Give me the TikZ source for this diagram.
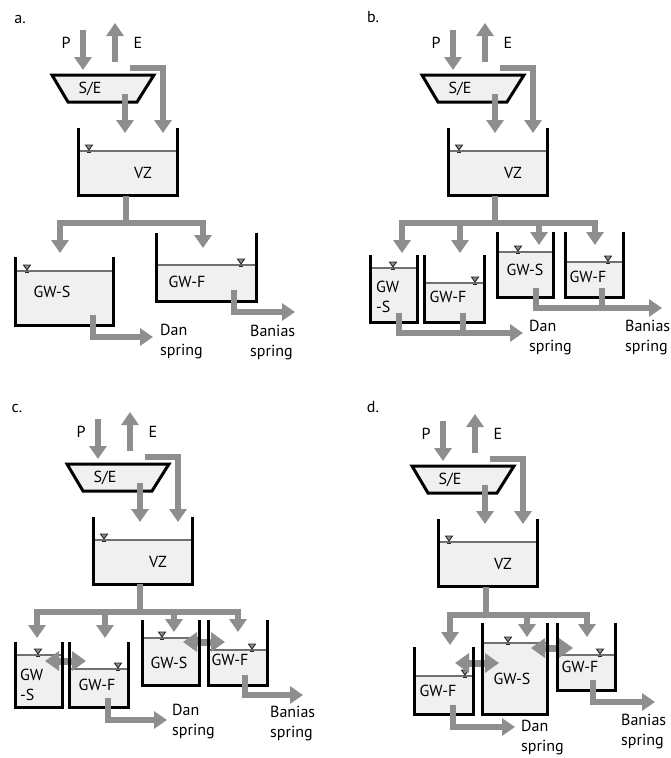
\documentclass[tikz,border=0pt]{standalone}
\usepackage{fontspec}
\setmainfont{PT Sans}
\usetikzlibrary{arrows.meta}
\definecolor{flowgray}{HTML}{8E8E8E}
\definecolor{tankfill}{HTML}{F0F0F0}
\definecolor{watercol}{HTML}{707070}

% reservoir interior below the water table, with the water-table mark
\newcommand{\tankbody}[5]{% left, right, bottom, water level, mark x
  \fill[tankfill] (#1,#4) rectangle (#2,#3);
  \draw[waterline] (#1,#4) -- (#2,#4);
  \draw[wtmark] ({#5-3.5},{#4-6}) -- ({#5+3.5},{#4-6}) -- (#5,{#4-1}) -- cycle;
  \draw[wtmark] ({#5-2},{#4+1.5}) -- ({#5+2},{#4+1.5});
}
% the open-topped walls of a reservoir
\newcommand{\tankwall}[4]{% left, right, top, bottom
  \draw[wall] (#1,#3) -- (#1,#4) -- (#2,#4) -- (#2,#3);
}
% precipitation, evaporation, surface store and vadose zone
\newcommand{\upperpart}[2]{%
  \begin{scope}[shift={(#1,#2)}]
    \draw[flow] (83,30) -- (83,70);
    \node[lbl] (P#1) at (66,43) {P};
    \draw[flow] (115,62) -- (115,23);
    \node[lbl] (E#1) at (138,43) {E};
    \draw[store] (52,75) -- (154,75) -- (137,102) -- (68,102) -- cycle;
    \node[lbl] (SE#1) at (90,89) {S/E};
    \draw[flow] (125,94) -- (125,133);
    \draw[flow] (130,68) -- (163,68) -- (163,133);
    \tankbody{78}{177}{195}{151}{89}
    \tankwall{78}{177}{128}{195}
    \node[lbl] (VZ#1) at (143,173) {VZ};
  \end{scope}
}

\begin{document}
\begin{tikzpicture}[x=1pt,y=-1pt,
  lbl/.style={font=\fontsize{16}{20}\selectfont, inner sep=0pt},
  txt/.style={font=\fontsize{16}{20}\selectfont, inner sep=0pt, align=left, anchor=west},
  flow/.style={draw=flowgray, line width=6pt, line join=miter,
    -{Triangle[width=17pt,length=13pt]}},
  dflow/.style={draw=flowgray, line width=7pt,
    {Triangle[width=19pt,length=14pt]}-{Triangle[width=19pt,length=14pt]}},
  trunk/.style={draw=flowgray, line width=6pt, line join=miter},
  wall/.style={draw=black, line width=3pt, line join=miter},
  store/.style={draw=black, fill=tankfill, line width=3pt, line join=miter},
  waterline/.style={draw=watercol, line width=1.2pt},
  wtmark/.style={draw=black!85, line width=0.9pt, fill=black!45}]
\useasboundingbox (0,0) rectangle (671,758);

% ---------------- a. ----------------
\node[lbl] (la) at (20,20) {a.};
\upperpart{0}{0}
\draw[trunk] (126,196) -- (126,223);
\draw[flow] (126,223) -- (60,223) -- (60,253);
\draw[flow] (126,223) -- (203,223) -- (203,248);
\tankbody{15}{113}{325}{271}{27}
\tankwall{15}{113}{257}{325}
\node[lbl] (gwsa) at (52,292) {GW-S};
\tankbody{156}{256}{301}{265}{241}
\tankwall{156}{256}{233}{301}
\node[lbl] (gwfa) at (187,282) {GW-F};
\draw[flow] (93,315) -- (93,337) -- (153,337);
\node[txt] (dana) at (160,342) {Dan\\spring};
\draw[flow] (234,290) -- (234,312) -- (295,312);
\node[txt] (bana) at (250,343) {Banias\\spring};

% ---------------- b. ----------------
\node[lbl] (lb) at (373,17) {b.};
\upperpart{370}{0}
\draw[trunk] (495,196) -- (495,223);
\draw[flow] (495,223) -- (402,223) -- (402,253);
\draw[flow] (460,223) -- (460,253);
\draw[flow] (495,223) -- (595,223) -- (595,245);
\draw[flow] (539,223) -- (539,245);
\tankbody{370}{417}{322}{268}{393}
\tankwall{370}{417}{255}{322}
\node[txt] (gwsb1) at (376,297) {GW\\-S};
\tankbody{424}{484}{322}{283}{475}
\tankwall{424}{484}{255}{322}
\node[lbl] (gwfb1) at (448,297) {GW-F};
\tankbody{497}{553}{297}{252}{518}
\tankwall{497}{553}{232}{297}
\node[lbl] (gwsb2) at (525,270) {GW-S};
\tankbody{565}{623}{297}{262}{608}
\tankwall{565}{623}{232}{297}
\node[lbl] (gwfb2) at (588,277) {GW-F};
\draw[flow] (399,313) -- (399,333) -- (523,333);
\draw[trunk] (463,313) -- (463,333);
\node[txt] (danb) at (529,338) {Dan\\spring};
\draw[flow] (536,288) -- (536,308) -- (662,308);
\draw[trunk] (602,288) -- (602,308);
\node[txt] (banb) at (625,338) {Banias\\spring};

% ---------------- c. ----------------
\node[lbl] (lc) at (17,408) {c.};
\upperpart{15}{389}
\draw[trunk] (140,584) -- (140,612);
\draw[flow] (140,612) -- (37,612) -- (37,638);
\draw[flow] (105,612) -- (105,638);
\draw[flow] (140,612) -- (238,612) -- (238,632);
\draw[flow] (174,612) -- (174,632);
\tankbody{15}{62}{707}{655}{38}
\tankbody{69}{128}{707}{669}{118}
\tankbody{142}{199}{685}{638}{162}
\tankbody{208}{267}{685}{650}{252}
\draw[dflow] (45,661) -- (86,661);
\draw[dflow] (183,642) -- (225,642);
\tankwall{15}{62}{642}{707}
\tankwall{69}{128}{642}{707}
\tankwall{142}{199}{620}{685}
\tankwall{208}{267}{620}{685}
\node[txt] (gwsc1) at (20,685) {GW\\-S};
\node[lbl] (gwfc1) at (97,685) {GW-F};
\node[lbl] (gwsc2) at (169,663) {GW-S};
\node[lbl] (gwfc2) at (230,660) {GW-F};
\draw[flow] (108,698) -- (108,720) -- (167,720);
\node[txt] (danc) at (172,722) {Dan\\spring};
\draw[flow] (245,675) -- (245,695) -- (303,695);
\node[txt] (banc) at (270,724) {Banias\\spring};

% ---------------- d. ----------------
\node[lbl] (ld) at (373,407) {d.};
\upperpart{360}{391}
\draw[trunk] (486,587) -- (486,615);
\draw[flow] (486,615) -- (450,615) -- (450,645);
\draw[flow] (486,615) -- (587,615) -- (587,637);
\draw[flow] (527,615) -- (527,637);
\tankbody{414}{473}{714}{676}{465}
\tankbody{482}{547}{714}{643}{508}
\tankbody{557}{615}{690}{655}{600}
\draw[dflow] (455,663) -- (499,663);
\draw[dflow] (531,648) -- (573,648);
\tankwall{414}{473}{647}{714}
\tankwall{482}{547}{623}{714}
\tankwall{557}{615}{623}{690}
\node[lbl] (gwfd1) at (438,691) {GW-F};
\node[lbl] (gwsd) at (512,679) {GW-S};
\node[lbl] (gwfd2) at (580,667) {GW-F};
\draw[flow] (453,705) -- (453,727) -- (515,727);
\node[txt] (dand) at (521,738) {Dan\\spring};
\draw[flow] (593,680) -- (593,702) -- (655,702);
\node[txt] (band) at (621,732) {Banias\\spring};
\end{tikzpicture}
\end{document}
